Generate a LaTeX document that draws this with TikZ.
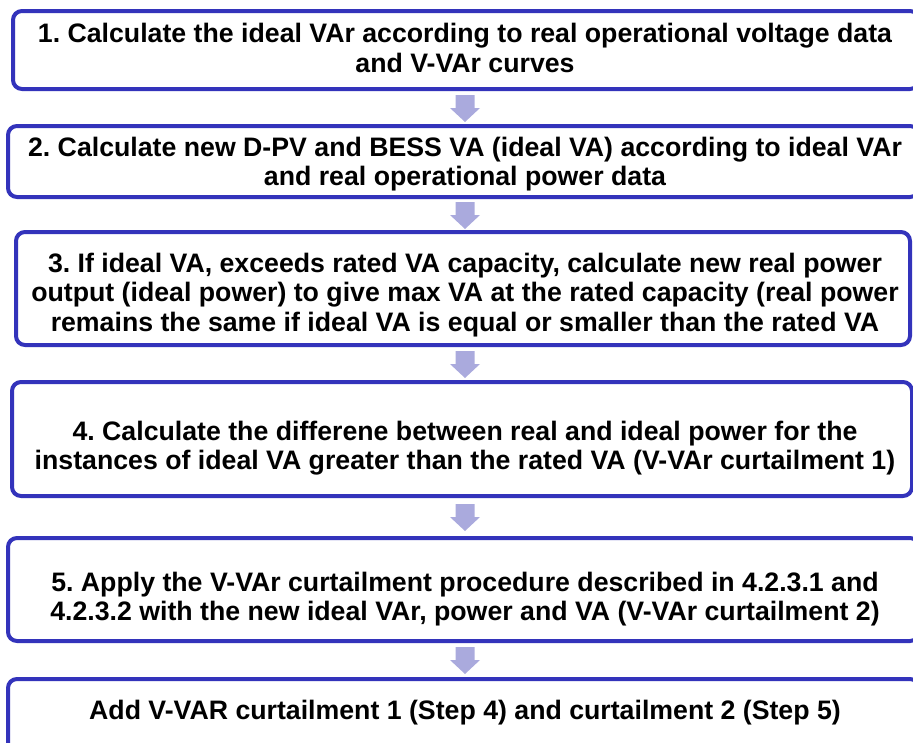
\documentclass[tikz,border=0pt]{standalone}
\usepackage{fontspec}
\setmainfont{Liberation Sans}
\definecolor{boxblue}{RGB}{51,51,187}
\definecolor{arrowlilac}{RGB}{170,170,221}
\tikzset{
  stepbox/.style={draw=boxblue, line width=4pt, rounded corners=9pt, fill=white, inner sep=0pt},
  steptext/.style={align=center, font=\fontsize{26.7}{29.5}\selectfont\bfseries, inner sep=0pt},
  downarr/.pic={\fill[arrowlilac] (-9.5,0) -- (9.5,0) -- (9.5,13) -- (15,13) -- (0,27) -- (-15,13) -- (-9.5,13) -- cycle;}
}
\begin{document}
\frenchspacing
\begin{tikzpicture}[x=1pt,y=-1pt]
\useasboundingbox (0,0) rectangle (913,742);
% boxes
\node[stepbox, minimum width=906pt, minimum height=78pt] (b1) at (466,50) {};
\node[stepbox, minimum width=911pt, minimum height=71pt] (b2) at (463.5,161.5) {};
\node[stepbox, minimum width=894pt, minimum height=113pt] (b3) at (463,288.5) {};
\node[stepbox, minimum width=900pt, minimum height=114pt] (b4) at (462,439) {};
\node[stepbox, minimum width=911pt, minimum height=103pt] (b5) at (463.5,589.5) {};
\node[stepbox, minimum width=911pt, minimum height=110pt] (b6) at (463.5,734) {};
% texts
\node[steptext] (t1) at (465,48) {1. Calculate the ideal VAr according to real operational voltage data\\and V-VAr curves};
\node[steptext] (t2) at (465,164) {2. Calculate new D-PV and BESS VA (ideal VA) according to ideal VAr\\and real operational power data};
\node[steptext] (t3) at (465,295) {3. If ideal VA, exceeds rated VA capacity, calculate new real power\\output (ideal power) to give max VA at the rated capacity (real power\\remains the same if ideal VA is equal or smaller than the rated VA};
\node[steptext] (t4) at (465,448) {4. Calculate the differene between real and ideal power for the\\instances of ideal VA greater than the rated VA (V-VAr curtailment 1)};
\node[steptext] (t5) at (465,599) {5. Apply the V-VAr curtailment procedure described in 4.2.3.1 and\\4.2.3.2 with the new ideal VAr, power and VA (V-VAr curtailment 2)};
\node[steptext] (t6) at (465,713) {Add V-VAR curtailment 1 (Step 4) and curtailment 2 (Step 5)};
% arrows between boxes
\coordinate (a1) at (465,95);
\coordinate (a2) at (465,202);
\coordinate (a3) at (465,351);
\coordinate (a4) at (465,504);
\coordinate (a5) at (465,647);
\foreach \a in {a1,a2,a3,a4,a5} { \pic at (\a) {downarr}; }
\end{tikzpicture}
\end{document}
